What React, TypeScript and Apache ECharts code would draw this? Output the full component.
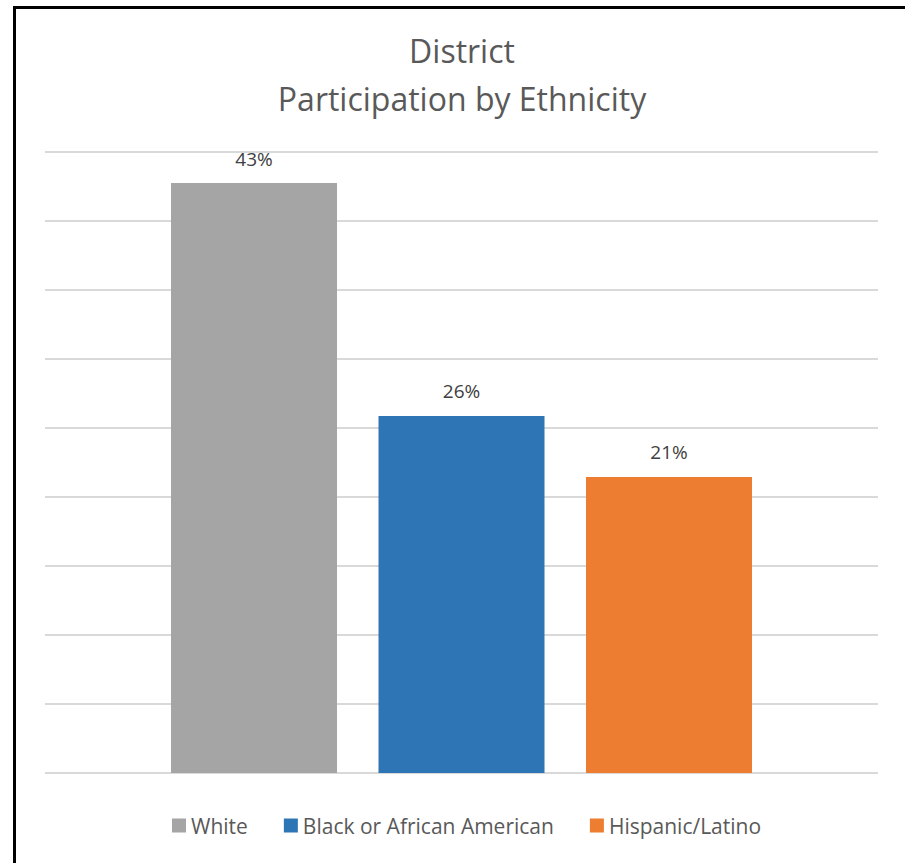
import React, { useEffect, useRef } from "react";
import * as echarts from "echarts";

const categories = ["White", "Black or African American", "Hispanic/Latino"];
const values = [0.4275, 0.2587, 0.2145];
const colors = ["#a5a5a5", "#2e75b6", "#ed7d31"];
const titleText = "District\nParticipation by Ethnicity";

const FONT = "'Open Sans', 'Noto Sans', sans-serif";

export default function App() {
  const ref = useRef<HTMLDivElement>(null);
  useEffect(() => {
    document.body.style.margin = "0";
    const chart = echarts.init(ref.current!, undefined, { renderer: "svg" });
    chart.setOption({
      animation: false,
      backgroundColor: "#ffffff",
      textStyle: { fontFamily: FONT },
      title: {
        text: titleText,
        left: 462,
        textAlign: "center",
        top: 26,
        padding: 0,
        textStyle: {
          fontSize: 32,
          lineHeight: 48,
          fontWeight: "normal",
          color: "#595959",
          fontFamily: FONT,
        },
      },
      legend: {
        bottom: 22,
        left: 167,
        icon: "rect",
        itemWidth: 14,
        itemHeight: 14,
        itemGap: 36,
        textStyle: { fontSize: 21, color: "#595959", fontFamily: FONT },
        data: categories,
      },
      grid: { left: 45, right: 27, top: 152, bottom: 90, containLabel: false },
      xAxis: {
        type: "category",
        data: [""],
        axisLine: { show: false },
        axisTick: { show: false },
        axisLabel: { show: false },
      },
      yAxis: {
        type: "value",
        min: 0,
        max: 0.45,
        interval: 0.05,
        axisLabel: { show: false },
        axisLine: { show: false },
        axisTick: { show: false },
        splitLine: { lineStyle: { color: "#d9d9d9", width: 2 } },
      },
      graphic: [
        {
          type: "rect",
          shape: { x: 14.5, y: 7.5, width: 1000, height: 1000 },
          style: { fill: "none", stroke: "#000000", lineWidth: 3 },
          silent: true,
          z: 100,
        },
      ],
      series: categories.map((name, i) => ({
        name,
        type: "bar",
        data: [values[i]],
        barWidth: 166,
        barGap: "25%",
        itemStyle: { color: colors[i] },
        label: {
          show: true,
          position: "top",
          distance: 15,
          fontSize: 19,
          color: "#404040",
          fontFamily: FONT,
          formatter: (p: any) => Math.round(p.value * 100) + "%",
        },
      })),
    });
    return () => chart.dispose();
  }, []);
  return (
    <div
      ref={ref}
      style={{ position: "fixed", left: 0, top: 0, width: 905, height: 863 }}
    />
  );
}
